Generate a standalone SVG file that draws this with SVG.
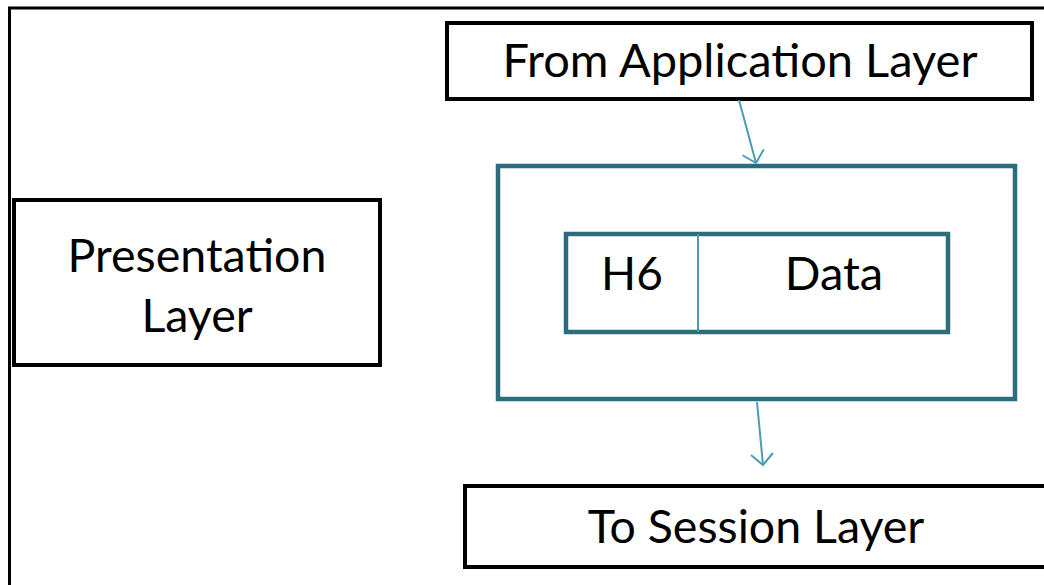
<svg xmlns="http://www.w3.org/2000/svg" width="1044" height="585" viewBox="0 0 1044 585">
<defs>
<style>
.blk{fill:#fff;stroke:#000;stroke-width:4}
.teal{fill:#fff;stroke:#2d6c7b;stroke-width:4.5}
.lbl{font-family:Lato,"Open Sans","Liberation Sans",sans-serif;fill:#000;text-anchor:middle}
.conn{stroke:#4a9cb3;stroke-width:2;fill:none}
</style>
<marker id="v" viewBox="0 0 28 28" refX="14" refY="14" markerWidth="28" markerHeight="28" markerUnits="userSpaceOnUse" orient="auto">
<path d="M3,3 L14,14 L3,25" fill="none" stroke="#4a9cb3" stroke-width="2"/>
</marker>
</defs>
<rect width="1044" height="585" fill="#fff"/>
<g id="frame"><path d="M9.5,585 V8 H1044" fill="none" stroke="#000" stroke-width="3"/></g>
<g id="presentation">
<rect class="blk" x="14" y="200" width="366" height="165"/>
<text class="lbl" x="197" y="272" font-size="46.5">Presentation</text>
<text class="lbl" x="197" y="332" font-size="46.5">Layer</text>
</g>
<g id="from-app">
<rect class="blk" x="447" y="23" width="585" height="76"/>
<text class="lbl" x="740" y="77" font-size="47">From Application Layer</text>
</g>
<g id="packet">
<rect class="teal" x="498" y="166" width="517" height="233"/>
<rect class="teal" x="566" y="234" width="382" height="98"/>
<line x1="698" y1="234" x2="698" y2="332" stroke="#4a9cb3" stroke-width="2"/>
<text class="lbl" x="632" y="290" font-size="46">H6</text>
<text class="lbl" x="834" y="290" font-size="47">Data</text>
</g>
<g id="to-session">
<rect class="blk" x="465" y="486" width="600" height="81"/>
<text class="lbl" x="756" y="543" font-size="46.5">To Session Layer</text>
</g>
<g id="connectors">
<line class="conn" x1="739" y1="100" x2="756" y2="163" marker-end="url(#v)"/>
<line class="conn" x1="757" y1="402" x2="763" y2="465" marker-end="url(#v)"/>
</g>
</svg>
